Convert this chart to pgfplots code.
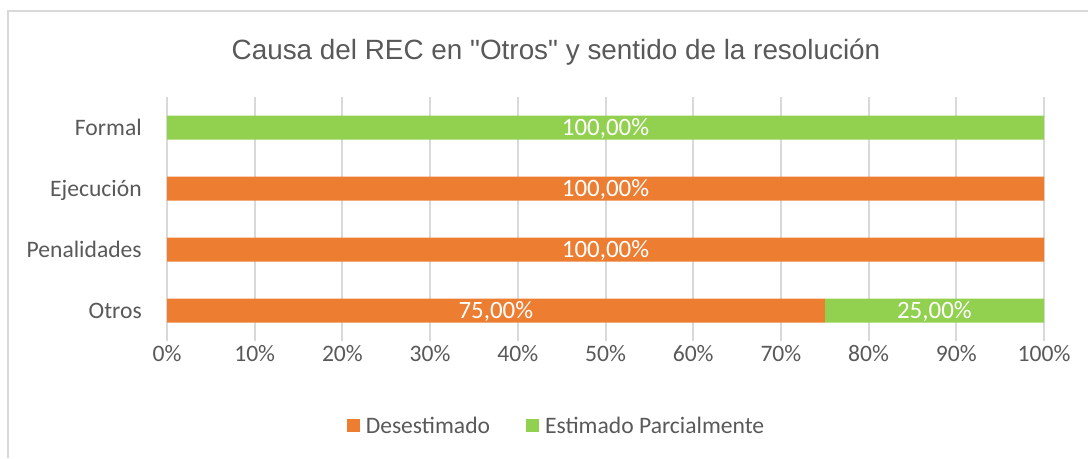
\documentclass[border=0pt]{standalone}
\usepackage{fontspec}
\setmainfont{Carlito}
\newfontfamily\arialf{Liberation Sans}
\usepackage{pgfplots}
\pgfplotsset{compat=1.18}
\definecolor{corange}{HTML}{ED7D31}
\definecolor{cgreen}{HTML}{92D050}
\definecolor{tgray}{HTML}{595959}
\definecolor{ggray}{HTML}{D9D9D9}
\newcommand{\lblfont}{\fontsize{17.7}{20}\selectfont}
\newcommand{\datafont}{\fontsize{18.7}{21}\selectfont}
\begin{document}
\begin{tikzpicture}
\useasboundingbox (0pt,0pt) rectangle (816pt,-343.5pt);
\draw[ggray, line width=1.5pt] (5.625pt,-343.5pt) -- (5.625pt,-8.25pt) -- (816pt,-8.25pt);
\node[anchor=base, text=tgray, font=\arialf\fontsize{20.9}{24}\selectfont, inner sep=0pt] at (417pt,-44.25pt) {Causa del REC en "Otros" y sentido de la resolución};
\begin{axis}[
  at={(125.25pt,-255.75pt)}, anchor=south west,
  scale only axis, width=657.75pt, height=183pt,
  xmin=0, xmax=100, ymin=-0.5, ymax=3.5,
  xbar stacked, bar width=18pt,
  axis line style={draw=none},
  major tick length=0pt,
  xmajorgrids, grid style={ggray, line width=1.5pt},
  xtick={0,10,...,100},
  xticklabels={0\%,10\%,20\%,30\%,40\%,50\%,60\%,70\%,80\%,90\%,100\%},
  ytick={0,1,2,3},
  yticklabels={Otros,Penalidades,Ejecución,Formal},
  tick label style={font=\lblfont, text=tgray},
  xticklabel style={anchor=base, inner sep=0pt, yshift=-15.5pt},
  yticklabel style={anchor=base east, inner sep=0pt, xshift=-18.75pt, yshift=-5.7pt},
  legend image code/.code={\fill[#1] (0pt,-4.9pt) rectangle (9.75pt,4.9pt);},
  legend style={at={(0.4464,-0.348)}, anchor=center, draw=none, fill=none,
    legend columns=2, font=\lblfont, text=tgray,
    nodes={inner xsep=4.5pt, inner ysep=0pt},
    /tikz/every even column/.append style={column sep=22.5pt}},
]
\addplot[fill=corange, draw=none] coordinates {(75,0) (100,1) (100,2) (0,3)};
\addlegendentry{Desestimado}
\addplot[fill=cgreen, draw=none] coordinates {(25,0) (0,1) (0,2) (100,3)};
\addlegendentry{Estimado Parcialmente}
\end{axis}
\begin{axis}[
  at={(125.25pt,-255.75pt)}, anchor=south west,
  scale only axis, width=657.75pt, height=183pt,
  xmin=0, xmax=100, ymin=-0.5, ymax=3.5,
  hide axis,
]
\addplot[draw=none, mark=none, nodes near coords, point meta=explicit symbolic,
  nodes near coords style={anchor=base, text=white, font=\datafont, inner sep=0pt, yshift=-6pt}]
  coordinates {(37.5,0) [75,00\%] (87.5,0) [25,00\%] (50,1) [100,00\%] (50,2) [100,00\%] (50,3) [100,00\%]};
\end{axis}
\end{tikzpicture}
\end{document}
